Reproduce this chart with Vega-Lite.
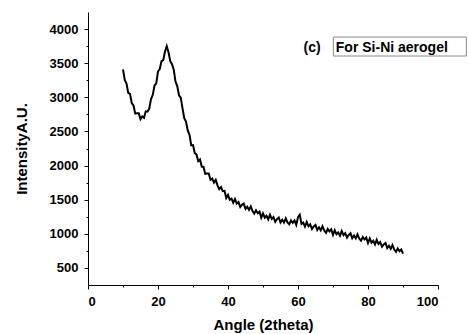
{
  "$schema": "https://vega.github.io/schema/vega-lite/v6.json",
  "width": 350,
  "height": 273,
  "autosize": "none",
  "padding": {"left": 88, "top": 12, "right": 31, "bottom": 49},
  "background": "white",
  "config": {
    "view": {"stroke": null}
  },
  "datasets": {
    "xrd": [
      {"angle":10,"intensity":3410},{"angle":10.5,"intensity":3255},{"angle":11,"intensity":3200},{"angle":11.5,"intensity":3065},
      {"angle":12,"intensity":3050},{"angle":12.5,"intensity":2915},{"angle":13,"intensity":2880},{"angle":13.5,"intensity":2760},
      {"angle":14,"intensity":2765},{"angle":14.5,"intensity":2765},{"angle":15,"intensity":2680},{"angle":15.5,"intensity":2720},
      {"angle":16,"intensity":2700},{"angle":16.5,"intensity":2795},{"angle":17,"intensity":2790},{"angle":17.5,"intensity":2835},
      {"angle":18,"intensity":2975},{"angle":18.5,"intensity":3035},{"angle":19,"intensity":3170},{"angle":19.5,"intensity":3205},
      {"angle":20,"intensity":3380},{"angle":20.5,"intensity":3415},{"angle":21,"intensity":3530},{"angle":21.5,"intensity":3545},
      {"angle":22,"intensity":3670},{"angle":22.5,"intensity":3750},{"angle":23,"intensity":3660},{"angle":23.5,"intensity":3530},
      {"angle":24,"intensity":3485},{"angle":24.5,"intensity":3405},{"angle":25,"intensity":3230},{"angle":25.5,"intensity":3165},
      {"angle":26,"intensity":3030},{"angle":26.5,"intensity":2995},{"angle":27,"intensity":2840},{"angle":27.5,"intensity":2695},
      {"angle":28,"intensity":2645},{"angle":28.5,"intensity":2515},{"angle":29,"intensity":2450},{"angle":29.5,"intensity":2295},
      {"angle":30,"intensity":2300},{"angle":30.5,"intensity":2185},{"angle":31,"intensity":2160},{"angle":31.5,"intensity":2065},
      {"angle":32,"intensity":2090},{"angle":32.5,"intensity":1985},{"angle":33,"intensity":1980},{"angle":33.5,"intensity":1880},
      {"angle":34,"intensity":1885},{"angle":34.5,"intensity":1885},{"angle":35,"intensity":1790},{"angle":35.5,"intensity":1810},
      {"angle":36,"intensity":1750},{"angle":36.5,"intensity":1790},{"angle":37,"intensity":1710},{"angle":37.5,"intensity":1655},
      {"angle":38,"intensity":1685},{"angle":38.5,"intensity":1625},{"angle":39,"intensity":1630},{"angle":39.5,"intensity":1525},
      {"angle":40,"intensity":1570},{"angle":40.5,"intensity":1500},{"angle":41,"intensity":1515},{"angle":41.5,"intensity":1455},
      {"angle":42,"intensity":1510},{"angle":42.5,"intensity":1443},{"angle":43,"intensity":1465},{"angle":43.5,"intensity":1392},
      {"angle":44,"intensity":1425},{"angle":44.5,"intensity":1443},{"angle":45,"intensity":1365},{"angle":45.5,"intensity":1397},
      {"angle":46,"intensity":1350},{"angle":46.5,"intensity":1402},{"angle":47,"intensity":1335},{"angle":47.5,"intensity":1297},
      {"angle":48,"intensity":1345},{"angle":48.5,"intensity":1302},{"angle":49,"intensity":1325},{"angle":49.5,"intensity":1237},
      {"angle":50,"intensity":1300},{"angle":50.5,"intensity":1237},{"angle":51,"intensity":1265},{"angle":51.5,"intensity":1212},
      {"angle":52,"intensity":1280},{"angle":52.5,"intensity":1217},{"angle":53,"intensity":1245},{"angle":53.5,"intensity":1177},
      {"angle":54,"intensity":1215},{"angle":54.5,"intensity":1239},{"angle":55,"intensity":1167},{"angle":55.5,"intensity":1206},
      {"angle":56,"intensity":1165},{"angle":56.5,"intensity":1226},{"angle":57,"intensity":1167},{"angle":57.5,"intensity":1139},
      {"angle":58,"intensity":1195},{"angle":58.5,"intensity":1162},{"angle":59,"intensity":1195},{"angle":59.5,"intensity":1130},
      {"angle":60,"intensity":1245},{"angle":60.5,"intensity":1280},{"angle":61,"intensity":1145},{"angle":61.5,"intensity":1165},
      {"angle":62,"intensity":1105},{"angle":62.5,"intensity":1172},{"angle":63,"intensity":1110},{"angle":63.5,"intensity":1137},
      {"angle":64,"intensity":1070},{"angle":64.5,"intensity":1107},{"angle":65,"intensity":1130},{"angle":65.5,"intensity":1057},
      {"angle":66,"intensity":1095},{"angle":66.5,"intensity":1052},{"angle":67,"intensity":1110},{"angle":67.5,"intensity":1047},
      {"angle":68,"intensity":1015},{"angle":68.5,"intensity":1070},{"angle":69,"intensity":1035},{"angle":69.5,"intensity":1065},
      {"angle":70,"intensity":985},{"angle":70.5,"intensity":1054},{"angle":71,"intensity":993},{"angle":71.5,"intensity":1021},
      {"angle":72,"intensity":970},{"angle":72.5,"intensity":1040},{"angle":73,"intensity":980},{"angle":73.5,"intensity":1010},
      {"angle":74,"intensity":945},{"angle":74.5,"intensity":984},{"angle":75,"intensity":1007},{"angle":75.5,"intensity":936},
      {"angle":76,"intensity":975},{"angle":76.5,"intensity":934},{"angle":77,"intensity":992},{"angle":77.5,"intensity":931},
      {"angle":78,"intensity":900},{"angle":78.5,"intensity":954},{"angle":79,"intensity":917},{"angle":79.5,"intensity":946},
      {"angle":80,"intensity":865},{"angle":80.5,"intensity":932},{"angle":81,"intensity":870},{"angle":81.5,"intensity":897},
      {"angle":82,"intensity":845},{"angle":82.5,"intensity":912},{"angle":83,"intensity":850},{"angle":83.5,"intensity":877},
      {"angle":84,"intensity":810},{"angle":84.5,"intensity":845},{"angle":85,"intensity":865},{"angle":85.5,"intensity":790},
      {"angle":86,"intensity":825},{"angle":86.5,"intensity":780},{"angle":87,"intensity":835},{"angle":87.5,"intensity":770},
      {"angle":88,"intensity":735},{"angle":88.5,"intensity":785},{"angle":89,"intensity":745},{"angle":89.5,"intensity":770},
      {"angle":90,"intensity":710}
    ],
    "labels": [
      {"angle": 61.6, "intensity": 3722, "text": "(c)"},
      {"angle": 70.8, "intensity": 3722, "text": "For Si-Ni aerogel"}
    ],
    "box": [
      {"x1": 70.1, "x2": 108.1, "y1": 3605, "y2": 3883}
    ]
  },
  "layer": [
    {
      "data": {"name": "xrd"},
      "mark": {"type": "line", "color": "black", "strokeWidth": 2, "clip": false},
      "encoding": {
        "x": {
          "field": "angle", "type": "quantitative",
          "scale": {"domain": [0, 100], "nice": false, "zero": false},
          "axis": {
            "title": "Angle (2theta)",
            "values": [0,10,20,30,40,50,60,70,80,90,100],
            "tickCount": 50,
            "labelExpr": "datum.value % 20 === 0 ? datum.label : ''",
            "labelOverlap": false,
            "grid": false,
            "domainColor": "black", "domainWidth": 1,
            "tickColor": "black", "tickWidth": 1,
            "tickSize": {"condition": {"test": "datum.value % 20 === 0", "value": 4}, "value": 2},
            "labelFont": "Liberation Sans", "labelFontSize": 13, "labelFontWeight": "bold", "labelColor": "black",
            "labelPadding": 6,
            "titleFont": "Liberation Sans", "titleFontSize": 15, "titleFontWeight": "bold", "titleColor": "black",
            "titlePadding": 9
          }
        },
        "y": {
          "field": "intensity", "type": "quantitative",
          "scale": {"domain": [250, 4250], "nice": false, "zero": false},
          "axis": {
            "title": "IntensityA.U.",
            "values": [500,750,1000,1250,1500,1750,2000,2250,2500,2750,3000,3250,3500,3750,4000],
            "tickCount": 50,
            "format": "d",
            "labelExpr": "datum.value % 500 === 0 ? datum.label : ''",
            "labelOverlap": false,
            "grid": false,
            "domainColor": "black", "domainWidth": 1,
            "tickColor": "black", "tickWidth": 1,
            "tickSize": {"condition": {"test": "datum.value % 500 === 0", "value": 4}, "value": 2},
            "labelFont": "Liberation Sans", "labelFontSize": 13, "labelFontWeight": "bold", "labelColor": "black",
            "labelPadding": 6,
            "titleFont": "Liberation Sans", "titleFontSize": 15, "titleFontWeight": "bold", "titleColor": "black",
            "titlePadding": 20
          }
        }
      }
    },
    {
      "data": {"name": "box"},
      "mark": {"type": "rect", "fill": null, "stroke": "#8a8a8a", "strokeWidth": 1, "clip": false},
      "encoding": {
        "x": {"field": "x1", "type": "quantitative"},
        "x2": {"field": "x2"},
        "y": {"field": "y1", "type": "quantitative"},
        "y2": {"field": "y2"}
      }
    },
    {
      "data": {"name": "labels"},
      "mark": {"type": "text", "align": "left", "baseline": "middle", "font": "Liberation Sans", "fontSize": 14, "fontWeight": "bold", "color": "black", "clip": false},
      "encoding": {
        "x": {"field": "angle", "type": "quantitative"},
        "y": {"field": "intensity", "type": "quantitative"},
        "text": {"field": "text"}
      }
    }
  ]
}
